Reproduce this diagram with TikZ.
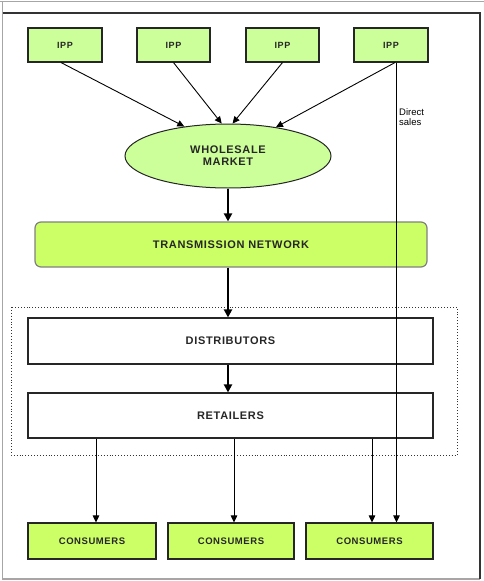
\documentclass[tikz,border=0pt]{standalone}
\usepackage{fontspec}
\setmainfont{Liberation Sans}
\usetikzlibrary{arrows.meta,shapes.geometric,calc}
\definecolor{paleg}{HTML}{CCFF99}
\definecolor{limeg}{HTML}{CCFF66}
\newfontfamily\lsfont[LetterSpace=6]{Liberation Sans Bold}
\tikzset{
  box/.style={draw=black!85,line width=1.1pt,inner sep=0pt,align=center,text=black!85},
  ippbox/.style={box,fill=paleg,minimum height=34pt,font=\fontsize{9}{10}\lsfont},
  consbox/.style={box,fill=limeg,minimum height=36pt,font=\fontsize{9.5}{10}\lsfont},
  whitebox/.style={box,fill=white,minimum width=405pt,font=\fontsize{11}{12}\lsfont},
  thin/.style={line width=0.9pt,-{Triangle[length=7pt,width=6.5pt]}},
  thick/.style={line width=2pt,-{Triangle[length=8pt,width=8pt]}}
}
\begin{document}
\begin{tikzpicture}[x=1pt,y=-1pt]
\useasboundingbox (0,0) rectangle (484,581);
% page frame
\draw[gray!70,line width=1.3pt] (0,1.5) -- (484,1.5);
\draw[gray!70,line width=1.3pt] (2.5,1.5) -- (2.5,579) -- (480,579);
\draw[black!80,line width=1.3pt] (2.5,13) -- (480,13) -- (480,579);
% dotted group
\draw[dotted,line width=0.9pt,black!80] (11,307) rectangle (457,455);
% nodes
\node[ippbox,minimum width=74pt] (ipp1) at (65,45) {IPP};
\node[ippbox,minimum width=73pt] (ipp2) at (173.5,45) {IPP};
\node[ippbox,minimum width=73pt] (ipp3) at (282.5,45) {IPP};
\node[ippbox,minimum width=74pt] (ipp4) at (391,45) {IPP};
\node[ellipse,draw=black!85,line width=1pt,fill=paleg,minimum width=206pt,minimum height=64pt,inner sep=0pt,align=center,text=black!85,font=\fontsize{11}{12}\lsfont] (wm) at (228,156) {WHOLESALE\\MARKET};
\node[draw=black!50,line width=1.2pt,fill=limeg,rounded corners=6pt,minimum width=392pt,minimum height=45pt,inner sep=0pt,text=black!85,font=\fontsize{11}{12}\lsfont] (tn) at (231,244.5) {TRANSMISSION NETWORK};
\node[whitebox,minimum height=46pt] (dist) at (230.5,341) {DISTRIBUTORS};
\node[whitebox,minimum height=45pt] (ret) at (230.5,415.5) {RETAILERS};
\node[consbox,minimum width=128pt] (cons1) at (92,541) {CONSUMERS};
\node[consbox,minimum width=126pt] (cons2) at (231,541) {CONSUMERS};
\node[consbox,minimum width=127pt] (cons3) at (369.5,541) {CONSUMERS};
\node[anchor=north west,inner sep=0pt,align=left,font=\fontsize{9.5}{10.5}\selectfont] (ds) at (399,108) {Direct\\sales};
% connectors
\draw[thin] ([xshift=-4pt]ipp1.south) -- (wm.146);
\draw[thin] (ipp2.south) -- (wm.101);
\draw[thin] (ipp3.south) -- (wm.82);
\draw[thin] ([xshift=4pt]ipp4.south) -- (wm.31);
\draw[thin] ([xshift=5.5pt]ipp4.south) -- ([xshift=5.5pt]ipp4.south |- cons3.north);
\draw[thick] (wm.south) -- (wm.south |- tn.north);
\draw[thick] (wm.south |- tn.south) -- (wm.south |- dist.north);
\draw[thick] (wm.south |- dist.south) -- (wm.south |- ret.north);
\draw[thin] ([xshift=4pt]cons1.north |- ret.south) -- ([xshift=4pt]cons1.north);
\draw[thin] ([xshift=3pt]cons2.north |- ret.south) -- ([xshift=3pt]cons2.north);
\draw[thin] ([xshift=2.5pt]cons3.north |- ret.south) -- ([xshift=2.5pt]cons3.north);
\end{tikzpicture}
\end{document}
